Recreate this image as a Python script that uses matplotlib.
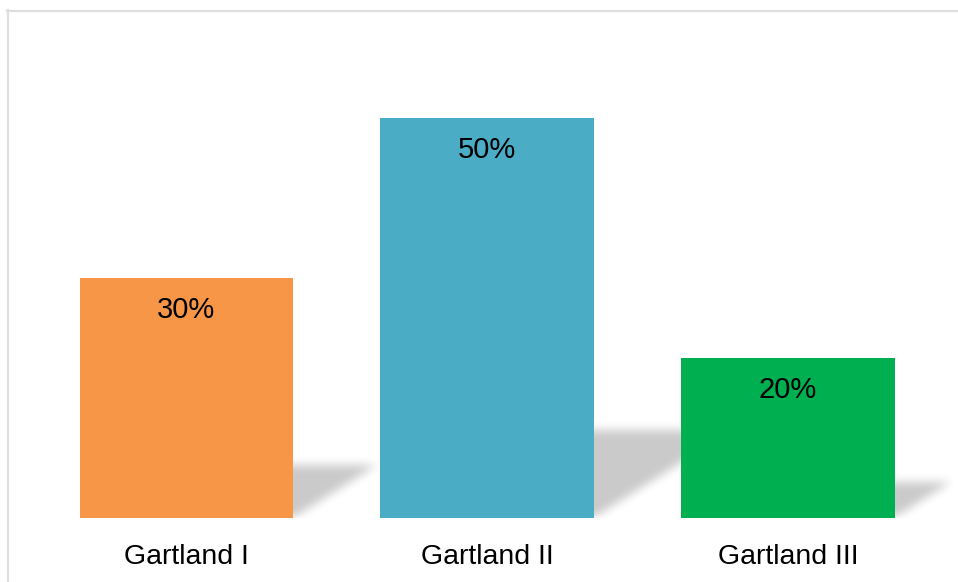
import numpy as np
import matplotlib
matplotlib.use("Agg")
import matplotlib.pyplot as plt
from matplotlib.path import Path
from matplotlib.lines import Line2D

plt.rcParams['font.family'] = ['Liberation Sans', 'DejaVu Sans']

categories = ['Gartland I', 'Gartland II', 'Gartland III']
percent = [30, 50, 20]
colors = ['#F79646', '#4BACC6', '#00B050']

W, H = 958, 582
fig = plt.figure(figsize=(W / 100, H / 100), dpi=100)
ax = fig.add_axes([0, 64 / H, 1, 480 / H])

x = np.arange(len(categories))
width = 0.71
xlim = (-0.62, 2.565)
ylim = (0, 60)
ax.set_xlim(*xlim)
ax.set_ylim(*ylim)

bars = ax.bar(x, percent, width=width, color=colors, zorder=3)

# soft perspective shadows thrown to the right of each bar
gx = np.linspace(xlim[0], xlim[1], W)
gy = np.linspace(ylim[0], ylim[1], 480)
XX, YY = np.meshgrid(gx, gy)
pts = np.column_stack([XX.ravel(), YY.ravel()])
mask = np.zeros(XX.shape)
for xi, h in zip(x, percent):
    x0, x1 = xi - width / 2, xi + width / 2
    s = 0.0093 * h
    k = 0.22 * h
    poly = Path([(x0, 0), (x1, 0), (x1 + s, k), (x0 + s, k), (x0, 0)])
    mask = np.maximum(mask, poly.contains_points(pts).reshape(XX.shape))

kern = np.ones(9) / 9
for _ in range(3):
    mask = np.apply_along_axis(lambda r: np.convolve(r, kern, mode='same'), 1, mask)
    mask = np.apply_along_axis(lambda c: np.convolve(c, kern, mode='same'), 0, mask)

rgba = np.zeros(mask.shape + (4,))
rgba[..., 3] = np.clip(mask * 0.21, 0, 1)
ax.imshow(rgba, extent=(xlim[0], xlim[1], ylim[0], ylim[1]), origin='lower',
          aspect='auto', zorder=1, interpolation='bilinear')

for b, v in zip(bars, percent):
    ax.text(b.get_x() + b.get_width() / 2, v - 2.3, f'{v}%', ha='center', va='top',
            fontsize=21, color='black', zorder=4)

ax.set_xticks(x)
ax.set_xticklabels(categories, fontsize=20.5)
ax.tick_params(axis='x', length=0, pad=19)
ax.set_yticks([])
for sp in ax.spines.values():
    sp.set_visible(False)

# frame: only the top and left edges fall inside the image
edge = '#dedede'
fig.add_artist(Line2D([7 / W, 1], [1 - 10.5 / H, 1 - 10.5 / H],
                      transform=fig.transFigure, color=edge, lw=1.6))
fig.add_artist(Line2D([7.5 / W, 7.5 / W], [0, 1 - 10 / H],
                      transform=fig.transFigure, color=edge, lw=1.6))

fig.savefig('out.png', dpi=100)
